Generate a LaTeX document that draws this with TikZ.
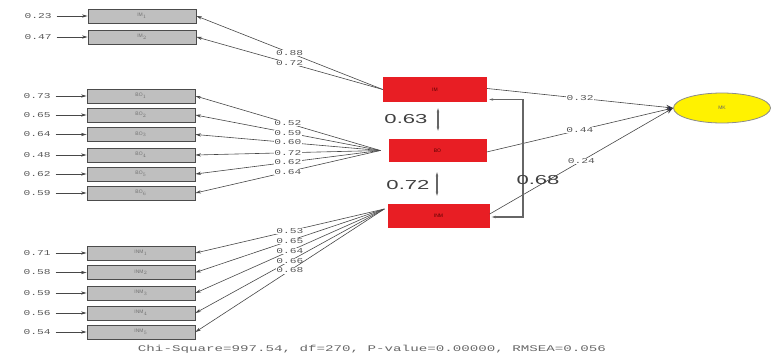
\documentclass[tikz,border=0pt]{standalone}
\usepackage{fontspec}
\setmainfont{Liberation Sans}
\newfontfamily\monof{Liberation Mono}
\usetikzlibrary{arrows.meta,shapes.geometric}
\definecolor{latred}{RGB}{232,30,36}
\newcommand\wideme[1]{\scalebox{1.5}[1]{#1}}
\begin{document}
\begin{tikzpicture}[x=1pt,y=-1pt,
  ind/.style={draw=black!70, line width=0.9pt, fill=black!25, minimum width=108pt, minimum height=14pt, inner sep=0pt, font=\fontsize{5}{5}\selectfont, text=black!55},
  lat/.style={fill=latred, draw=none, inner sep=0pt, font=\fontsize{5}{5}\selectfont, text=red!35!black},
  coef/.style={font=\monof\fontsize{7.5}{8}\selectfont, text=black!65, inner sep=0.6pt},
  coefw/.style={coef, fill=white},
  conn/.style={draw=black!72, line width=0.6pt, -{Stealth[length=5.5pt,width=3.2pt,fill=black!85]}},
  pathc/.style={draw=black!72, line width=0.6pt, -{Stealth[length=7pt,width=5pt,fill=blue!30!black]}},
  dbl/.style={draw=black!60, line width=1.1pt, {Stealth[length=4pt,width=2.5pt]}-{Stealth[length=4pt,width=2.5pt]}},
  big/.style={font=\fontsize{13}{13}\selectfont, text=black!75, inner sep=0pt}
]
\useasboundingbox (0,0) rectangle (776,356);

% indicators
\node[ind] (IM1) at (142,16) {IM$_1$};
\node[ind] (IM2) at (142,37) {IM$_2$};
\node[ind] (BO1) at (141,96) {BO$_1$};
\node[ind] (BO2) at (141,115) {BO$_2$};
\node[ind] (BO3) at (141,134.5) {BO$_3$};
\node[ind] (BO4) at (141,155) {BO$_4$};
\node[ind] (BO5) at (141,174) {BO$_5$};
\node[ind] (BO6) at (141,193) {BO$_6$};
\node[ind] (INM1) at (141,253) {INM$_1$};
\node[ind] (INM2) at (141,272.5) {INM$_2$};
\node[ind] (INM3) at (141,293) {INM$_3$};
\node[ind] (INM4) at (141,313) {INM$_4$};
\node[ind] (INM5) at (141,332) {INM$_5$};

% error variances
\foreach \n/\v in {IM1/0.23, IM2/0.47, BO1/0.73, BO2/0.65, BO3/0.64, BO4/0.48, BO5/0.62, BO6/0.59, INM1/0.71, INM2/0.58, INM3/0.59, INM4/0.56, INM5/0.54}{
  \node[coef, anchor=east] (e\n) at ([xshift=-35pt]\n.west) {\wideme{\v}};
  \draw[conn, shorten <=4pt] (e\n.east) -- (\n.west);
}

% latent variables
\node[lat, minimum width=104pt, minimum height=25pt] (IM) at (435,89.5) {IM};
\node[lat, minimum width=98pt, minimum height=23pt] (BO) at (437.5,150.5) {BO};
\node[lat, minimum width=102pt, minimum height=24pt] (INM) at (438.5,216) {INM};
\node[ellipse, draw=black!45, line width=0.8pt, fill=yellow, minimum width=97pt, minimum height=30pt, inner sep=0pt, font=\fontsize{5}{5}\selectfont, text=black!60] (MK) at (722,108) {MK};

% loadings
\foreach \n/\v in {IM1/0.88, IM2/0.72}{
  \draw[conn] (IM.west) -- node[coefw, pos=0.5] {\wideme{\v}} (\n.east);
}
\foreach \n/\v in {BO1/0.52, BO2/0.59, BO3/0.60, BO4/0.72, BO5/0.62, BO6/0.64}{
  \draw[conn] ([xshift=-8pt]BO.west) -- node[coefw, pos=0.5] {\wideme{\v}} (\n.east);
}
\foreach \n/\v in {INM1/0.53, INM2/0.65, INM3/0.64, INM4/0.66, INM5/0.68}{
  \draw[conn] ([xshift=-3pt,yshift=7pt]INM.west) -- node[coefw, pos=0.5] {\wideme{\v}} (\n.east);
}

% structural paths
\draw[pathc] ([yshift=1pt]IM.east) -- node[coefw, pos=0.5] {\wideme{0.32}} (MK.west);
\draw[pathc] ([yshift=-1.5pt]BO.east) -- node[coefw, pos=0.5] {\wideme{0.44}} (MK.west);
\draw[pathc] ([yshift=2pt]INM.east) -- node[coefw, pos=0.5] {\wideme{0.24}} (MK.west);

% correlations
\draw[dbl] ([xshift=3pt,yshift=-6pt]IM.south) -- ([xshift=0.5pt,yshift=8pt]BO.north);
\node[big] (c1) at (406,119) {\scalebox{1.7}[1]{0.63}};
\draw[dbl] ([xshift=-0.5pt,yshift=-10pt]BO.south) -- ([xshift=-1.5pt,yshift=8pt]INM.north);
\node[big] (c2) at (408,185) {\scalebox{1.7}[1]{0.72}};
\coordinate (b1) at (523,99.5);
\coordinate (b2) at (523,217);
\draw[dbl, line cap=rect] ([xshift=2pt,yshift=-10pt]IM.east) -- (b1) -- (b2) -- ([xshift=2pt,yshift=-1pt]INM.east);
\node[big] (c3) at (538,180) {\scalebox{1.7}[1]{0.68}};

% fit statistics
\node[coef, text=black!60] (fit) at (372,349) {\scalebox{1.63}[1]{\fontsize{8.7}{9}\selectfont Chi-Square=997.54, df=270, P-value=0.00000, RMSEA=0.056}};
\end{tikzpicture}
\end{document}
